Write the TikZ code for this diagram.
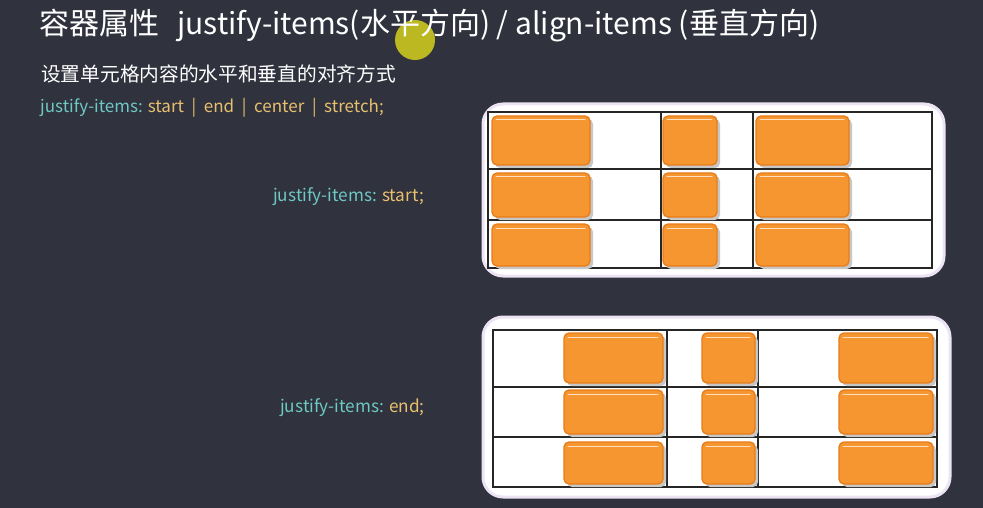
\documentclass[tikz,border=0pt]{standalone}
\usepackage{fontspec}
\setmainfont{Noto Sans CJK SC}
\definecolor{bg}{RGB}{48,50,62}
\definecolor{cy}{RGB}{110,200,195}
\definecolor{gd}{RGB}{232,192,110}
\definecolor{og}{RGB}{246,150,48}
\definecolor{ogd}{RGB}{232,124,24}
\definecolor{frame}{RGB}{236,228,244}
\definecolor{cur}{RGB}{212,208,30}
\tikzset{
  txt/.style={anchor=west, inner sep=0pt},
  obox/.style={draw=ogd, line width=1.3pt, fill=og, rounded corners=5pt},
  oshadow/.style={fill=black!22, rounded corners=5pt},
  outer/.style={fill=white, draw=frame, line width=3pt, rounded corners=20pt},
  gridline/.style={draw=black!85, line width=1.3pt}
}
\newcommand{\obx}[4]{%
  \fill[oshadow] (#1+3,#2+3) rectangle (#3+3,#4+3);
  \draw[obox] (#1,#2) rectangle (#3,#4);
  \draw[white!70!og, line width=1pt, line cap=round] (#1+4,#2+4) -- (#3-5,#2+4);
}
\newcommand{\vsep}{\hspace{0.45em}|\hspace{0.45em}}
\begin{document}
\begin{tikzpicture}[x=1pt,y=-1pt]
\fill[bg] (0,0) rectangle (983,508);
\useasboundingbox (0,0) rectangle (983,508);

% cursor highlight
\fill[cur, opacity=0.85] (415,40) circle (20);

% texts
\node[txt, text=white, font=\fontsize{30}{36}\selectfont] (title) at (39,26)
  {容器属性\hspace{0.6em}justify-items(水平方向) / align-items (垂直方向)};
\node[txt, text=white, font=\fontsize{19.7}{24}\selectfont] (sub) at (41,74)
  {设置单元格内容的水平和垂直的对齐方式};
\node[txt, font=\fontsize{17}{20}\selectfont] (syntax) at (40,108)
  {\textcolor{cy}{justify-items:} \textcolor{gd}{start\vsep end\vsep center\vsep stretch;}};
\node[txt, font=\fontsize{17.2}{20}\selectfont] (lstart) at (273,197)
  {\textcolor{cy}{justify-items:} \textcolor{gd}{start;}};
\node[txt, font=\fontsize{17.2}{20}\selectfont] (lend) at (280,408)
  {\textcolor{cy}{justify-items:} \textcolor{gd}{end;}};

% grid 1 (start)
\draw[outer] (483,104) rectangle (944,276);
\fill[white] (488,112) rectangle (932,268);
\draw[gridline] (488,112) rectangle (932,268);
\draw[gridline] (661,112) -- (661,268) (753,112) -- (753,268);
\draw[gridline] (488,169) -- (932,169) (488,220) -- (932,220);
\obx{492}{116}{590}{165}
\obx{663}{116}{717}{165}
\obx{756}{116}{849}{165}
\obx{492}{173}{590}{217}
\obx{663}{173}{717}{217}
\obx{756}{173}{849}{217}
\obx{492}{224}{590}{266}
\obx{663}{224}{717}{266}
\obx{756}{224}{849}{266}

% grid 2 (end)
\draw[outer] (483,317) rectangle (950,497);
\fill[white] (493,330) rectangle (937,487);
\draw[gridline] (493,330) rectangle (937,487);
\draw[gridline] (667,330) -- (667,487) (758,330) -- (758,487);
\draw[gridline] (493,387) -- (937,387) (493,437) -- (937,437);
\obx{564}{333}{663}{383}
\obx{702}{333}{755}{383}
\obx{839}{333}{933}{383}
\obx{564}{390}{663}{434}
\obx{702}{390}{755}{434}
\obx{839}{390}{933}{434}
\obx{564}{442}{663}{484}
\obx{702}{442}{755}{484}
\obx{839}{442}{933}{484}
\end{tikzpicture}
\end{document}
